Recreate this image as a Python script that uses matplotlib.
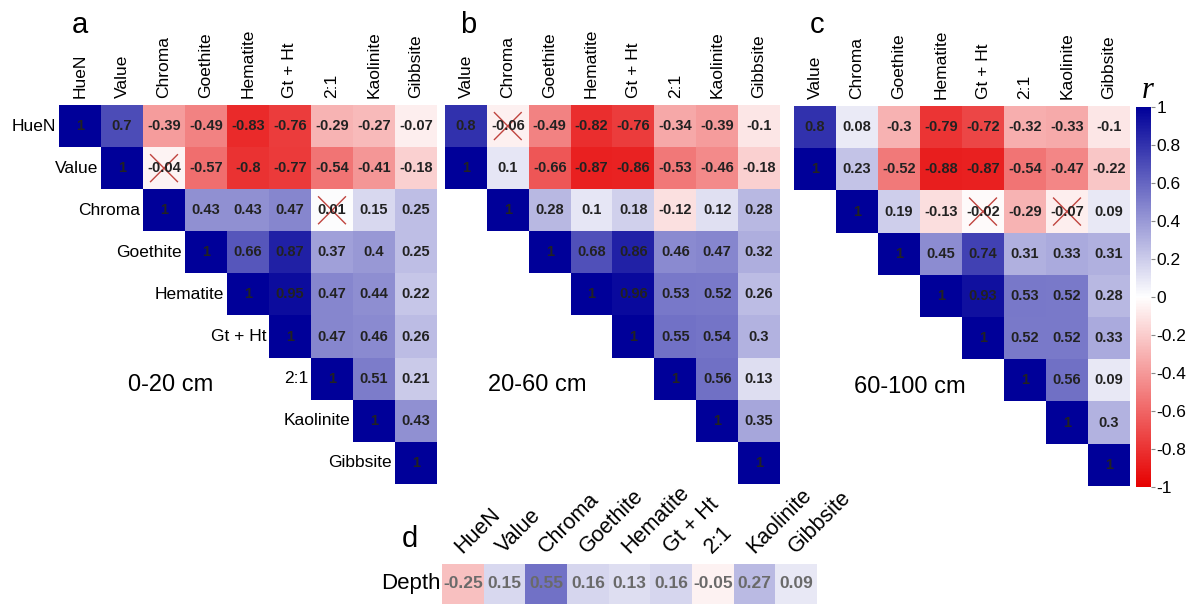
import numpy as np
import matplotlib
matplotlib.use("Agg")
import matplotlib.pyplot as plt
from matplotlib.colors import LinearSegmentedColormap
from matplotlib.cm import ScalarMappable
from matplotlib.colors import Normalize

plt.rcParams['font.family'] = ['Liberation Sans', 'DejaVu Sans']

variables = ["HueN", "Value", "Chroma", "Goethite", "Hematite",
             "Gt + Ht", "2:1", "Kaolinite", "Gibbsite"]

# Upper-triangle rows of each correlation matrix, each row starting at the diagonal
r_0_20 = [
    [1, 0.7, -0.39, -0.49, -0.83, -0.76, -0.29, -0.27, -0.07],
    [1, -0.04, -0.57, -0.8, -0.77, -0.54, -0.41, -0.18],
    [1, 0.43, 0.43, 0.47, 0.01, 0.15, 0.25],
    [1, 0.66, 0.87, 0.37, 0.4, 0.25],
    [1, 0.95, 0.47, 0.44, 0.22],
    [1, 0.47, 0.46, 0.26],
    [1, 0.51, 0.21],
    [1, 0.43],
    [1],
]
r_20_60 = [
    [1, 0.8, -0.06, -0.49, -0.82, -0.76, -0.34, -0.39, -0.1],
    [1, 0.1, -0.66, -0.87, -0.86, -0.53, -0.46, -0.18],
    [1, 0.28, 0.1, 0.18, -0.12, 0.12, 0.28],
    [1, 0.68, 0.86, 0.46, 0.47, 0.32],
    [1, 0.96, 0.53, 0.52, 0.26],
    [1, 0.55, 0.54, 0.3],
    [1, 0.56, 0.13],
    [1, 0.35],
    [1],
]
r_60_100 = [
    [1, 0.8, 0.08, -0.3, -0.79, -0.72, -0.32, -0.33, -0.1],
    [1, 0.23, -0.52, -0.88, -0.87, -0.54, -0.47, -0.22],
    [1, 0.19, -0.13, -0.02, -0.29, -0.07, 0.09],
    [1, 0.45, 0.74, 0.31, 0.33, 0.31],
    [1, 0.93, 0.53, 0.52, 0.28],
    [1, 0.52, 0.52, 0.33],
    [1, 0.56, 0.09],
    [1, 0.3],
    [1],
]

# Non-significant pairs (crossed out)
ns_0_20 = [("Value", "Chroma"), ("Chroma", "2:1")]
ns_20_60 = [("HueN", "Chroma")]
ns_60_100 = [("Chroma", "Gt + Ht"), ("Chroma", "Kaolinite")]

depth_r = [-0.25, 0.15, 0.55, 0.16, 0.13, 0.16, -0.05, 0.27, 0.09]

layers = ["0-20 cm", "20-60 cm", "60-100 cm"]

cmap = LinearSegmentedColormap.from_list(
    "rwb", ["#E60000", "#FFFFFF", "#000099"], N=256)
cmap.set_bad((1, 1, 1, 0))

W, H = 1187, 605
fig = plt.figure(figsize=(W / 100, H / 100), dpi=100)


def px_axes(x0, y0, x1, y1):
    return fig.add_axes([x0 / W, 1 - y1 / H, (x1 - x0) / W, (y1 - y0) / H])


def fmt(v):
    return f"{v + 0.0:g}"


def draw_panel(ax, rows, first_col, crossed, row_labels, layer, layer_x):
    n = len(variables)
    full = np.full((n, n), np.nan)
    for i, row in enumerate(rows):
        full[i, i:i + len(row)] = row
    mat = full[:, first_col:]
    ax.imshow(np.ma.masked_invalid(mat), cmap=cmap, vmin=-1, vmax=1,
              aspect='auto', interpolation='nearest')
    ax.set_xlim(-0.5, n - first_col - 0.5)
    ax.set_ylim(n - 0.5, -0.5)
    ax.axis('off')
    for i in range(n):
        for j in range(first_col, n):
            v = full[i, j]
            if np.isnan(v):
                continue
            ax.text(j - first_col, i, fmt(v), ha='center', va='center',
                    fontsize=10.5, fontweight='bold', color='#222222')
    for j in range(first_col, n):
        ax.annotate(variables[j], xy=(j - first_col, -0.5), xytext=(0, 5),
                    textcoords='offset points', rotation=90,
                    ha='center', va='bottom', fontsize=12.5)
    if row_labels:
        for i in range(n):
            ax.annotate(variables[i], xy=(i - first_col - 0.5, i),
                        xytext=(-2, 0), textcoords='offset points',
                        ha='right', va='center', fontsize=12.5)
    d = 0.32
    for a, b in crossed:
        i = variables.index(a)
        j = variables.index(b) - first_col
        ax.plot([j - d, j + d], [i - d, i + d], color='#C0443F', lw=1.0)
        ax.plot([j - d, j + d], [i + d, i - d], color='#C0443F', lw=1.0)
    ax.text(layer_x, 0.26, layer, transform=ax.transAxes, ha='center',
            va='center', fontsize=17)


ax_a = px_axes(59, 105, 437, 484)
draw_panel(ax_a, r_0_20, 0, ns_0_20, True, layers[0], 0.294)
ax_b = px_axes(445, 105, 780, 484)
draw_panel(ax_b, r_20_60, 1, ns_20_60, False, layers[1], 0.275)
ax_c = px_axes(794, 106, 1130, 486)
draw_panel(ax_c, r_60_100, 1, ns_60_100, False, layers[2], 0.345)

# Colour bar
cax = px_axes(1136, 107, 1151, 487)
ticks = np.round(np.linspace(-1, 1, 11), 1)
cb = fig.colorbar(ScalarMappable(norm=Normalize(-1, 1), cmap=cmap),
                  cax=cax, ticks=ticks)
cb.outline.set_visible(False)
cb.ax.set_yticklabels([fmt(t) for t in ticks])
cb.ax.tick_params(labelsize=12.5, length=3, width=0.8, color='#888888', pad=1)
fig.text(1148 / W, 1 - 98 / H, "r", family='Liberation Serif',
         style='italic', fontsize=22, ha='center', va='baseline')

# Depth correlation strip
ax_d = px_axes(442, 564, 817, 604)
ax_d.imshow(np.array([depth_r]), cmap=cmap, vmin=-1, vmax=1,
            aspect='auto', interpolation='nearest')
ax_d.axis('off')
for j, v in enumerate(depth_r):
    ax_d.text(j, 0, fmt(v), ha='center', va='center', fontsize=12.5,
              fontweight='bold', color='#6A6A6A')
    ax_d.annotate(variables[j], xy=(j + 0.07, -0.5), xytext=(0, 5),
                  textcoords='offset points', rotation=45,
                  rotation_mode='anchor', ha='left', va='bottom',
                  fontsize=15.5)
ax_d.annotate("Depth", xy=(-0.5, 0), xytext=(-1, 0),
              textcoords='offset points', ha='right', va='center',
              fontsize=16)

# Panel letters
for letter, x, y in [("a", 80, 33), ("b", 468, 33), ("c", 817, 33),
                     ("d", 410, 547)]:
    fig.text(x / W, 1 - y / H, letter, fontsize=21, ha='center',
             va='baseline')

fig.savefig("out.png", dpi=100)
